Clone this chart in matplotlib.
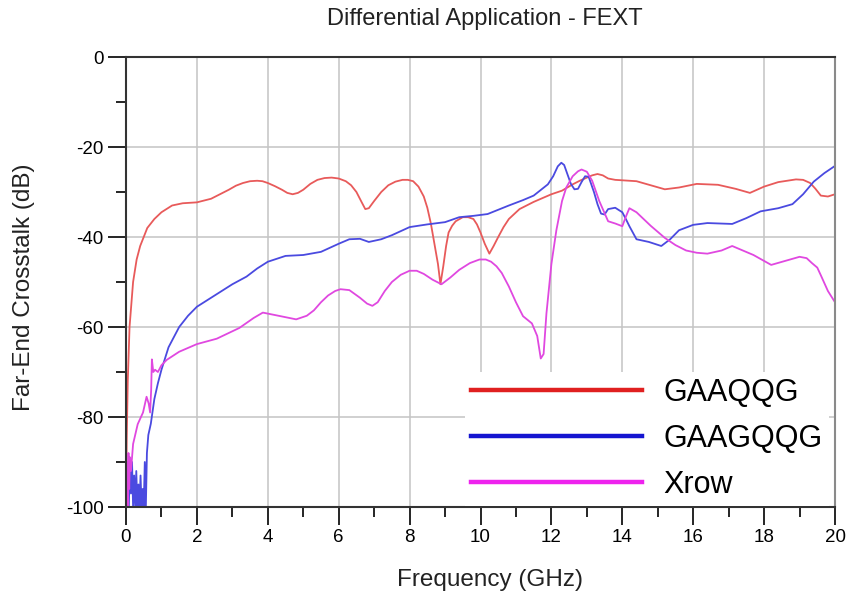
import matplotlib
matplotlib.use("Agg")
import matplotlib.pyplot as plt
from matplotlib.lines import Line2D

plt.rcParams['font.family'] = ['Liberation Sans', 'DejaVu Sans']
plt.rcParams['axes.unicode_minus'] = False

# GAAQQG
red_f = [0.0, 0.02, 0.05, 0.1, 0.2, 0.3, 0.4, 0.6, 0.8, 1.0, 1.3, 1.6, 2.0, 2.4, 2.7, 2.9, 3.1, 3.3, 3.5, 3.7, 3.85, 4.0,
         4.2, 4.4, 4.55, 4.7, 4.85, 5.0, 5.2, 5.4, 5.6, 5.8, 6.0, 6.2, 6.35, 6.5, 6.65, 6.75, 6.85, 7.0, 7.2, 7.4, 7.6, 7.8,
         7.95, 8.1, 8.25, 8.4, 8.5, 8.6, 8.7, 8.8, 8.87, 8.95, 9.03, 9.1, 9.2,
         9.3, 9.5, 9.65, 9.8, 9.9, 10.0, 10.12, 10.25, 10.37, 10.5, 10.65, 10.8, 11.1, 11.5, 12.0, 12.3, 12.6, 12.8, 13.0,
         13.15, 13.3, 13.45, 13.6, 13.8, 14.0,
         14.4, 14.8, 15.2, 15.6, 16.1, 16.7, 17.2, 17.6, 18.0, 18.4, 18.9, 19.1, 19.3, 19.45, 19.6, 19.8, 20.0]
red_db = [-100, -85, -72, -60, -50, -45, -42, -38, -36, -34.5, -33, -32.5, -32.3, -31.5, -30.3, -29.5, -28.6, -28, -27.6, -27.5, -27.6, -28,
          -28.7, -29.5, -30.2, -30.5, -30.2, -29.5, -28.2, -27.3, -26.9, -26.8, -27.0, -27.6, -28.5, -30, -32.3, -33.8, -33.6, -32, -30, -28.5, -27.7, -27.3,
          -27.3, -27.6, -28.8, -31, -33.5, -37, -41.5, -46, -50.5, -46.5, -42, -39, -37.5,
          -36.5, -35.6, -35.6, -36, -37.2, -39, -41.5, -43.7, -42, -40, -37.8, -36, -33.8, -32.2, -30.5, -29.7, -28.3, -27.5, -26.8,
          -26.3, -26.0, -26.3, -27.0, -27.3, -27.4,
          -27.6, -28.5, -29.4, -29, -28.2, -28.4, -29.3, -30.2, -28.8, -27.8, -27.2, -27.3, -28, -29.3, -30.8, -31, -30.5]

# GAAGQQG
blue_f = [0.02, 0.05, 0.08, 0.11, 0.14, 0.17, 0.2, 0.23, 0.26, 0.29, 0.32, 0.35, 0.38, 0.41, 0.44, 0.47,
          0.5, 0.53, 0.56, 0.59, 0.63, 0.7, 0.8, 0.9, 1.0, 1.2, 1.5, 1.75, 2.0, 2.3, 2.6, 3.0, 3.4, 3.7,
          4.0, 4.5, 5.0, 5.5, 6.0, 6.3, 6.6, 6.85, 7.2, 7.5, 8.0, 8.5, 9.0, 9.4, 9.8, 10.2, 10.8, 11.2,
          11.5, 11.9, 12.05, 12.18, 12.28, 12.36, 12.45, 12.55, 12.65, 12.75, 12.85, 12.95, 13.05, 13.2, 13.3, 13.4, 13.5,
          13.6, 13.8, 14.0, 14.1, 14.2,
          14.4, 14.75, 15.1, 15.35, 15.6, 16.0, 16.4, 17.1, 17.5, 17.9, 18.4, 18.8, 19.1, 19.4, 19.7, 20.0]
blue_db = [-100, -92, -100, -89, -97, -90, -100, -93, -100, -92, -100, -95, -100, -93, -100, -96,
           -100, -90, -100, -88, -84, -81.5, -76, -72.5, -69.5, -64.5, -60, -57.5, -55.5, -54, -52.5, -50.5, -48.8, -47,
           -45.5, -44.2, -44, -43.3, -41.5, -40.5, -40.4, -41.1, -40.5, -39.6, -37.8, -37.2, -36.7, -35.6, -35.3, -34.9, -33, -31.8,
           -30.8, -28.3, -26.5, -24.3, -23.5, -24, -26, -28.2, -29.4, -29.3, -27.8, -26.5, -26.6, -30, -32.7, -34.8, -35,
           -33.8, -33.5, -34.5, -36, -37.6,
           -40.5, -41.1, -42, -40.5, -38.5, -37.3, -36.9, -37.1, -35.8, -34.3, -33.6, -32.7, -30.5, -27.7, -25.8, -24.2]

# Xrow
mag_f = [0.01, 0.03, 0.05, 0.07, 0.09, 0.11, 0.14, 0.2, 0.33, 0.48, 0.58, 0.64, 0.68, 0.71, 0.73, 0.77,
         0.82, 0.9, 1.0, 1.15, 1.5, 2.0, 2.56, 3.2, 3.6, 3.86, 4.3, 4.8, 5.1, 5.3, 5.5, 5.7, 5.9, 6.05, 6.3, 6.6,
         6.8, 6.95, 7.1, 7.3, 7.5, 7.75, 8.0, 8.2, 8.4, 8.65, 8.9, 9.15, 9.4, 9.7, 9.97, 10.15, 10.3, 10.45, 10.6, 10.8,
         11.0, 11.2, 11.45, 11.6, 11.7, 11.78,
         11.86, 12.0, 12.14, 12.3, 12.42, 12.6, 12.75, 12.85, 13.0, 13.15, 13.35, 13.6, 13.8, 14.0, 14.1, 14.2,
         14.4, 14.8, 15.2, 15.5, 15.8, 16.1, 16.4, 16.8, 17.1, 17.4, 17.7, 18.2, 18.6, 19.0, 19.2, 19.35, 19.5, 19.6,
         19.8, 20.0]
mag_db = [-100, -90, -100, -88, -96, -89, -92, -86, -81.6, -79, -75.5, -77, -79, -74, -67.2, -70,
          -69.5, -70, -68.5, -67.3, -65.5, -63.8, -62.6, -60.2, -58, -56.8, -57.5, -58.3, -57.5, -56.3, -54.5, -53, -52, -51.6, -51.8, -53.5,
          -54.8, -55.3, -54.5, -52, -50, -48.4, -47.5, -47.5, -48.2, -49.5, -50.5, -49, -47.3, -45.8, -45, -45, -45.5, -46.5, -48, -51,
          -54.5, -57.6, -59.2, -62, -67, -66,
          -57, -46, -38.5, -32, -29, -26.5, -25.4, -25, -25.5, -27.5, -32, -36.5, -37, -37.6, -35.5, -33.6,
          -34.5, -37.5, -40.2, -41.8, -43, -43.5, -43.7, -43, -42, -43, -44, -46.2, -45.3, -44.4, -44.7, -45.8, -46.8, -48.5,
          -52, -54.5]

labels = ['GAAQQG', 'GAAGQQG', 'Xrow']

fig = plt.figure(figsize=(8.54, 6.05), dpi=100)
ax = fig.add_axes([126/854, 1-507/605, 709/854, 450/605])

ax.plot(red_f, red_db, color='#e85a5a', lw=1.3, solid_joinstyle='round')
ax.plot(blue_f, blue_db, color='#4a4ae0', lw=1.3, solid_joinstyle='round')
ax.plot(mag_f, mag_db, color='#e048e0', lw=1.3, solid_joinstyle='round')

ax.set_xlim(0, 20)
ax.set_ylim(-100, 0)

#ticks and grid
ax.xaxis.set_major_locator(plt.MultipleLocator(2))
ax.xaxis.set_minor_locator(plt.MultipleLocator(1))
ax.yaxis.set_major_locator(plt.MultipleLocator(20))
ax.yaxis.set_minor_locator(plt.MultipleLocator(10))
ax.tick_params(which='major', direction='out', length=13, width=1.2, labelsize=13.5, pad=3)
ax.tick_params(which='minor', direction='out', length=7, width=1.2)
ax.grid(which='major', color='#c4c4c4', linewidth=1.1)
ax.set_axisbelow(True)

for s in ['left', 'bottom', 'top']:
    ax.spines[s].set_color('#333333')
    ax.spines[s].set_linewidth(1.5)
ax.spines['right'].set_color('#8a8a8a')
ax.spines['right'].set_linewidth(1.5)

fig.text(485/854, 1-19/605, 'Differential Application - FEXT', ha='center', va='center',
         fontsize=17, color='#222222')
fig.text(490/854, 1-580/605, 'Frequency (GHz)', ha='center', va='center', fontsize=17.5, color='#222222')
fig.text(24/854, 1-287/605, 'Far-End Crosstalk (dB)', ha='center', va='center', rotation=90,
         fontsize=17.5, color='#222222')

#legend
handles = [Line2D([], [], color='#e02020', lw=3.2),
           Line2D([], [], color='#1515d0', lw=3.2),
           Line2D([], [], color='#ee22ee', lw=3.2)]
leg = ax.legend(handles, labels, loc='upper left', bbox_to_anchor=(465/854, 1-372/605),
                bbox_transform=fig.transFigure, fontsize=22, handlelength=5.6, handletextpad=0.7,
                labelspacing=0.52, borderpad=0.2, borderaxespad=0, frameon=True, fancybox=False)
leg.get_frame().set_facecolor('white')
leg.get_frame().set_edgecolor('none')
leg.get_frame().set_alpha(1)

fig.savefig('out.png', dpi=100)
